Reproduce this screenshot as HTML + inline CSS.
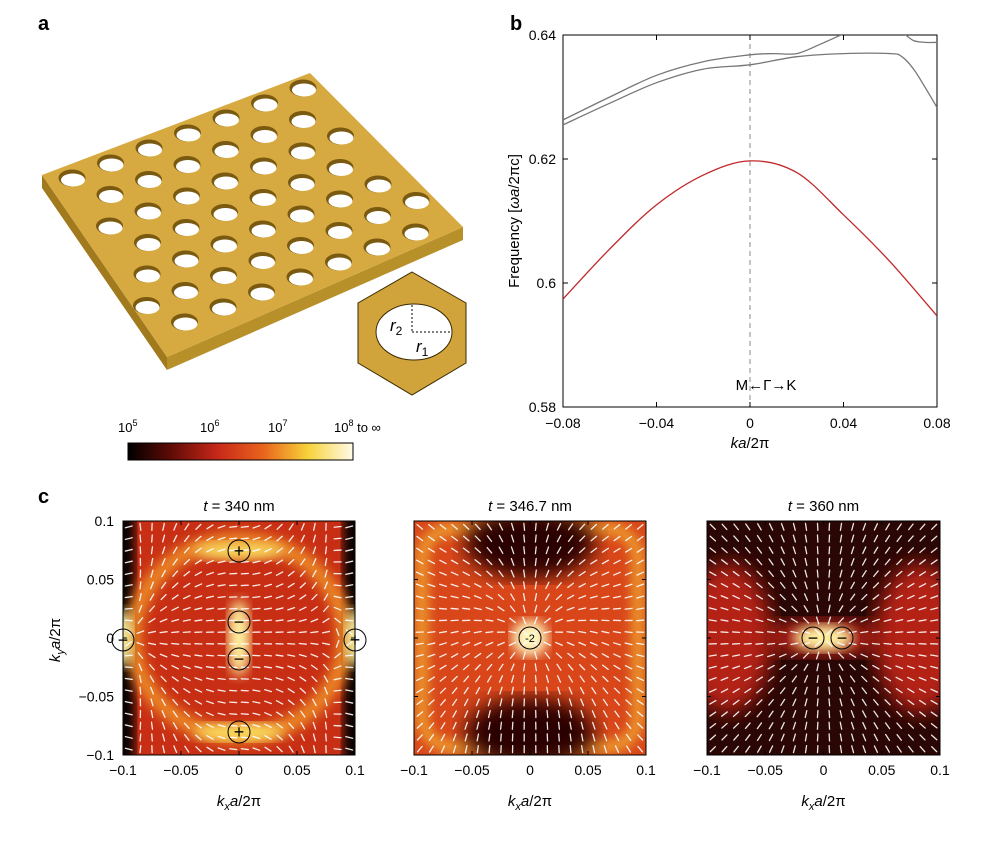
<!DOCTYPE html>
<html><head><meta charset="utf-8"><style>
body{margin:0;background:#fff;width:990px;height:836px;overflow:hidden;font-family:"Liberation Sans",sans-serif}
svg text{font-family:"Liberation Sans","DejaVu Sans",sans-serif}
</style></head><body>
<svg id="root" width="990" height="836" viewBox="0 0 990 836" xmlns="http://www.w3.org/2000/svg">
<defs>
<linearGradient id="cbar" x1="0" x2="1" y1="0" y2="0">
<stop offset="0" stop-color="#000"/><stop offset="0.18" stop-color="#5a0a05"/><stop offset="0.4" stop-color="#c8281a"/><stop offset="0.6" stop-color="#e8641c"/><stop offset="0.8" stop-color="#f7d23a"/><stop offset="1" stop-color="#fffbe8"/>
</linearGradient>
<filter id="blur6"><feGaussianBlur stdDeviation="6"/></filter>
<filter id="blur10"><feGaussianBlur stdDeviation="10"/></filter>
<clipPath id="c1"><rect x="123" y="521" width="232" height="234"/></clipPath>
<clipPath id="c2"><rect x="414" y="521" width="232" height="234"/></clipPath>
<clipPath id="c3"><rect x="707" y="521" width="233" height="234"/></clipPath>
</defs>
<text x="38" y="30" font-size="20" font-weight="bold">a</text>
<text x="510" y="30" font-size="20" font-weight="bold">b</text>
<text x="38" y="503" font-size="20" font-weight="bold">c</text>

<g id="slab">
<polygon points="42,175 167,357 167,370 42,188" fill="#a07a1c"/>
<polygon points="167,357 463,227 463,240 167,370" fill="#b8902a"/>
<polygon id="topface" points="42,175 310,73 463,227 167,357" fill="#d6aa40"/>
</g>
<g>
<polygon points="412,272 466,303 466,363 412,395 358,363 358,303" fill="#d0a43a" stroke="#3a2a00" stroke-width="1"/>
<ellipse cx="414" cy="332" rx="38" ry="28" fill="#fff" stroke="#3a2a00" stroke-width="1"/>
<line x1="412" y1="305" x2="412" y2="332" stroke="#000" stroke-dasharray="2,2"/>
<line x1="412" y1="332" x2="452" y2="332" stroke="#000" stroke-dasharray="2,2"/>
<text x="390" y="331" font-size="17" font-style="italic">r<tspan font-size="12" dy="4" font-style="normal">2</tspan></text>
<text x="416" y="352" font-size="17" font-style="italic">r<tspan font-size="12" dy="4" font-style="normal">1</tspan></text>
</g>
<g>
<rect x="128" y="443" width="225" height="17" fill="url(#cbar)" stroke="#000" stroke-width="1"/>
<text x="118" y="432" font-size="13">10<tspan font-size="9" dy="-6">5</tspan></text>
<text x="200" y="432" font-size="13">10<tspan font-size="9" dy="-6">6</tspan></text>
<text x="268" y="432" font-size="13">10<tspan font-size="9" dy="-6">7</tspan></text>
<text x="334" y="432" font-size="13">10<tspan font-size="9" dy="-6">8</tspan><tspan dy="6"> to ∞</tspan></text>
</g>

<g id="bandplot"></g>
<g id="maps"></g>
</svg>
<script>
// ---- band diagram data ----
const kRed=[-0.08,-0.06,-0.04,-0.02,0,0.02,0.04,0.06,0.08];
const fRed=[0.5974,0.6055,0.6126,0.6174,0.6197,0.6178,0.6110,0.6034,0.5947];
const kGrayLow=[-0.08,-0.06,-0.04,-0.02,0,0.02,0.04,0.06,0.065,0.07,0.075,0.08];
const fGrayLow=[0.6255,0.6290,0.6323,0.6345,0.6352,0.6365,0.6370,0.6370,0.6365,0.6345,0.6315,0.6283];
const kGrayUp=[-0.08,-0.06,-0.04,-0.02,0,0.01,0.02,0.03,0.04];
const fGrayUp=[0.6263,0.6300,0.6335,0.6357,0.6368,0.6370,0.6370,0.6385,0.6402];
const kGrayTop=[0.066,0.07,0.075,0.08];
const fGrayTop=[0.6402,0.6391,0.6388,0.6388];
const xTicks=[-0.08,-0.04,0,0.04,0.08];
const xTickLabels=["−0.08","−0.04","0","0.04","0.08"];
const yTicks=[0.58,0.6,0.62,0.64];
const yTickLabels=["0.58","0.6","0.62","0.64"];
const NS="http://www.w3.org/2000/svg";
function mk(tag,attrs,parent){const e=document.createElementNS(NS,tag);for(const k in attrs)e.setAttribute(k,attrs[k]);if(parent)parent.appendChild(e);return e;}
const X0=563,X1=937,Y0=407,Y1=35;
const bx=k=>X0+(k+0.08)/0.16*(X1-X0);
const by=f=>Y0-(f-0.58)/0.06*(Y0-Y1);
const bp=document.getElementById('bandplot');
const clipB=mk('clipPath',{id:'cb'},document.querySelector('defs'));mk('rect',{x:X0,y:Y1,width:X1-X0,height:Y0-Y1},clipB);
const frame=mk('rect',{x:X0,y:Y1,width:X1-X0,height:Y0-Y1,fill:'none',stroke:'#000','stroke-width':1},bp);


mk('line',{x1:bx(0),x2:bx(0),y1:Y1,y2:Y0,stroke:'#888','stroke-dasharray':'5,4'},bp);
xTicks.forEach((t,i)=>{mk('line',{x1:bx(t),x2:bx(t),y1:Y0,y2:Y0-5,stroke:'#000'},bp);mk('line',{x1:bx(t),x2:bx(t),y1:Y1,y2:Y1+5,stroke:'#000'},bp);
 const tx=mk('text',{x:bx(t),y:Y0+21,'font-size':14,'text-anchor':'middle'},bp);tx.textContent=xTickLabels[i];
 
 });
yTicks.forEach((t,i)=>{mk('line',{x1:X0,x2:X0+5,y1:by(t),y2:by(t),stroke:'#000'},bp);mk('line',{x1:X1,x2:X1-5,y1:by(t),y2:by(t),stroke:'#000'},bp);
 const tx=mk('text',{x:X0-7,y:by(t)+5,'font-size':14,'text-anchor':'end'},bp);tx.textContent=yTickLabels[i];
 
 });
function curve(ks,fs,col,name){
 const pts=ks.map((k,i)=>[bx(k),by(fs[i])]);
 let d='M'+pts[0][0].toFixed(1)+','+pts[0][1].toFixed(1);
 for(let i=0;i<pts.length-1;i++){const p0=pts[Math.max(i-1,0)],p1=pts[i],p2=pts[i+1],p3=pts[Math.min(i+2,pts.length-1)];
  const c1=[p1[0]+(p2[0]-p0[0])/6,p1[1]+(p2[1]-p0[1])/6],c2=[p2[0]-(p3[0]-p1[0])/6,p2[1]-(p3[1]-p1[1])/6];
  d+='C'+c1[0].toFixed(1)+','+c1[1].toFixed(1)+' '+c2[0].toFixed(1)+','+c2[1].toFixed(1)+' '+p2[0].toFixed(1)+','+p2[1].toFixed(1);}
 const p=mk('path',{d:d,fill:'none',stroke:col,'stroke-width':1.3,'clip-path':'url(#cb)'},bp);
 
 }
curve(kRed,fRed,'#c0282a','red-band');
curve(kGrayLow,fGrayLow,'#777','gray-band-lower');
curve(kGrayUp,fGrayUp,'#777','gray-band-upper');
curve(kGrayTop,fGrayTop,'#777','gray-band-top');
let t=mk('text',{x:766,y:390,'font-size':15,'text-anchor':'middle'},bp);t.textContent='M←Γ→K';
t=mk('text',{x:750,y:448,'font-size':15,'text-anchor':'middle'},bp);t.innerHTML='<tspan font-style="italic">ka</tspan>/2π';


t=mk('text',{x:0,y:0,'font-size':15,'text-anchor':'middle',transform:'translate(519,221) rotate(-90)'},bp);t.innerHTML='Frequency [<tspan font-style="italic">ωa</tspan>/2πc]';



// ---- slab holes ----
const slab=document.getElementById('slab');
const quad=[[42,175],[310,73],[463,227],[167,357]];
function inside(x,y){for(let i=0;i<4;i++){const a=quad[i],b=quad[(i+1)%4];if((b[0]-a[0])*(y-a[1])-(b[1]-a[1])*(x-a[0])<0)return false;}return true;}
function distEdge(x,y){let m=1e9;for(let i=0;i<4;i++){const a=quad[i],b=quad[(i+1)%4];const L=Math.hypot(b[0]-a[0],b[1]-a[1]);m=Math.min(m,((b[0]-a[0])*(y-a[1])-(b[1]-a[1])*(x-a[0]))/L);}return m;}
for(let i=-10;i<14;i++)for(let j=-10;j<14;j++){const x=72+i*38.5+j*38,y=178-i*15+j*16.5;
 if(inside(x,y)&&distEdge(x,y)>9){const g=mk('g',{},slab);
 
 
 mk('ellipse',{cx:x,cy:y,rx:13.5,ry:8.5,fill:'#7a5a10'},g);mk('ellipse',{cx:x+1,cy:y+2,rx:12,ry:6.5,fill:'#fff'},g);}}

// ---- panel c maps ----
const maps=document.getElementById('maps');
const panels=[{x:123,w:232,title:'340 nm',zero:239},{x:414,w:232,title:'346.7 nm',zero:530},{x:707,w:233,title:'360 nm',zero:823}];
const cTicks=[-0.1,-0.05,0,0.05,0.1];
const cTickLabels=["−0.1","−0.05","0","0.05","0.1"];
const MY0=521,MH=234;
panels.forEach((p,pi)=>{
 const g=mk('g',{'clip-path':'url(#c'+(pi+1)+')'},maps);
 
 
 const cx=p.x+p.w/2,cy=MY0+MH/2;
 if(pi===0){
  mk('rect',{x:p.x,y:MY0,width:p.w,height:MH,fill:'#c82e14'},g);
  mk('rect',{x:p.x-10,y:MY0-10,width:22,height:MH+20,fill:'#000',filter:'url(#blur6)'},g);
  mk('rect',{x:p.x+p.w-12,y:MY0-10,width:22,height:MH+20,fill:'#000',filter:'url(#blur6)'},g);
  mk('ellipse',{cx:cx,cy:cy,rx:106,ry:98,fill:'none',stroke:'#ec8a26','stroke-width':16,filter:'url(#blur6)'},g);
  mk('ellipse',{cx:cx,cy:551,rx:45,ry:9,fill:'#fbe060',filter:'url(#blur6)'},g);
  mk('ellipse',{cx:cx,cy:732,rx:45,ry:9,fill:'#fbe060',filter:'url(#blur6)'},g);
  mk('ellipse',{cx:cx,cy:cy,rx:11,ry:38,fill:'#fff3a0',filter:'url(#blur6)'},g);
  mk('ellipse',{cx:p.x,cy:cy,rx:10,ry:28,fill:'#fff3a0',filter:'url(#blur6)'},g);
  mk('ellipse',{cx:p.x+p.w,cy:cy,rx:10,ry:28,fill:'#fff3a0',filter:'url(#blur6)'},g);
 } else if(pi===1){
  mk('rect',{x:p.x,y:MY0,width:p.w,height:MH,fill:'#d8461a'},g);
  mk('rect',{x:p.x+8,y:MY0+8,width:p.w-16,height:MH-16,rx:30,fill:'none',stroke:'#f2b030','stroke-width':10,filter:'url(#blur6)'},g);
  mk('ellipse',{cx:cx,cy:MY0+22,rx:65,ry:35,fill:'#2a0604',filter:'url(#blur10)'},g);
  mk('ellipse',{cx:cx,cy:MY0+MH-22,rx:65,ry:35,fill:'#2a0604',filter:'url(#blur10)'},g);
  mk('circle',{cx:cx,cy:cy,r:18,fill:'#fff8c0',filter:'url(#blur6)'},g);
 } else {
  mk('rect',{x:p.x,y:MY0,width:p.w,height:MH,fill:'#2a0604'},g);
  mk('ellipse',{cx:p.x+20,cy:cy,rx:45,ry:75,fill:'#b42412',filter:'url(#blur10)'},g);
  mk('ellipse',{cx:p.x+p.w-20,cy:cy,rx:45,ry:75,fill:'#b42412',filter:'url(#blur10)'},g);
  mk('ellipse',{cx:cx,cy:cy,rx:60,ry:18,fill:'#b42412',filter:'url(#blur10)'},g);
  mk('ellipse',{cx:cx,cy:cy,rx:30,ry:13,fill:'#fff0a0',filter:'url(#blur6)'},g);
 }
 // arrows
 const n=20;
 for(let a=0;a<n;a++)for(let b=0;b<n;b++){
  const u=(a+0.5)/n*2-1,v=(b+0.5)/n*2-1;
  const x=p.x+(a+0.5)/n*p.w,y=MY0+(b+0.5)/n*MH;
  let ang;
  if(pi===0)ang=Math.atan2(v*Math.abs(u)*2,1-u*u)*1.2+(Math.abs(u)>0.85?Math.PI/2:0);
  else if(pi===1)ang=Math.atan2(-2*u*v,u*u-v*v)/2*(-1)+0.3*Math.sin(3*u);
  else ang=Math.atan2(2*u*v,u*u-v*v)/2;
  const L=3.5;
  mk('line',{x1:x-L*Math.cos(ang),y1:y-L*Math.sin(ang),x2:x+L*Math.cos(ang),y2:y+L*Math.sin(ang),stroke:'#fff','stroke-width':1.3,'stroke-linecap':'round',opacity:0.9},g);
 }
 // frame, ticks
 const fr=mk('rect',{x:p.x,y:MY0,width:p.w,height:MH,fill:'none',stroke:'#000'},maps);
 
 
 cTicks.forEach((tk,i)=>{
  const xx=p.x+(tk+0.1)/0.2*p.w, yy=MY0+MH-(tk+0.1)/0.2*MH;
  mk('line',{x1:xx,x2:xx,y1:MY0+MH,y2:MY0+MH-4,stroke:'#000'},maps);
  mk('line',{x1:xx,x2:xx,y1:MY0,y2:MY0+4,stroke:'#000'},maps);
  mk('line',{x1:p.x,x2:p.x+4,y1:yy,y2:yy,stroke:'#000'},maps);
  mk('line',{x1:p.x+p.w,x2:p.x+p.w-4,y1:yy,y2:yy,stroke:'#000'},maps);
  const tx=mk('text',{x:xx,y:MY0+MH+20,'font-size':14,'text-anchor':'middle'},maps);tx.textContent=cTickLabels[i];
  
  
  if(pi===0){const ty=mk('text',{x:p.x-9,y:yy+5,'font-size':14,'text-anchor':'end'},maps);ty.textContent=cTickLabels[i];
  
  }
 });
 const tt=mk('text',{x:cx,y:511,'font-size':15,'text-anchor':'middle'},maps);tt.innerHTML='<tspan font-style="italic">t</tspan> = '+p.title;
 
 
 const xl=mk('text',{x:cx,y:806,'font-size':15,'text-anchor':'middle'},maps);xl.innerHTML='<tspan font-style="italic">k<tspan font-size="11" dy="4">x</tspan><tspan dy="-4">a</tspan></tspan>/2π';
 
 
});
const yl=mk('text',{x:0,y:0,'font-size':15,'text-anchor':'middle',transform:'translate(60,640) rotate(-90)'},maps);
yl.innerHTML='<tspan font-style="italic">k<tspan font-size="11" dy="4">y</tspan><tspan dy="-4">a</tspan></tspan>/2π';


// charge markers
const markers=[[239,551,'+'],[239,622,'−'],[239,659,'−'],[239,732,'+'],[123,640,'−'],[355,640,'+'],[530,638,'-2'],[813,638,'−'],[842,638,'−']];
markers.forEach(m=>{
 const c=mk('circle',{cx:m[0],cy:m[1],r:11,fill:'none',stroke:'#000','stroke-width':1},maps);
 
 
 const tx=mk('text',{x:m[0],y:m[1]+(m[2]==='-2'?4:6),'font-size':m[2]==='-2'?11:18,'text-anchor':'middle'},maps);tx.textContent=m[2];
});
</script>
</body></html>
